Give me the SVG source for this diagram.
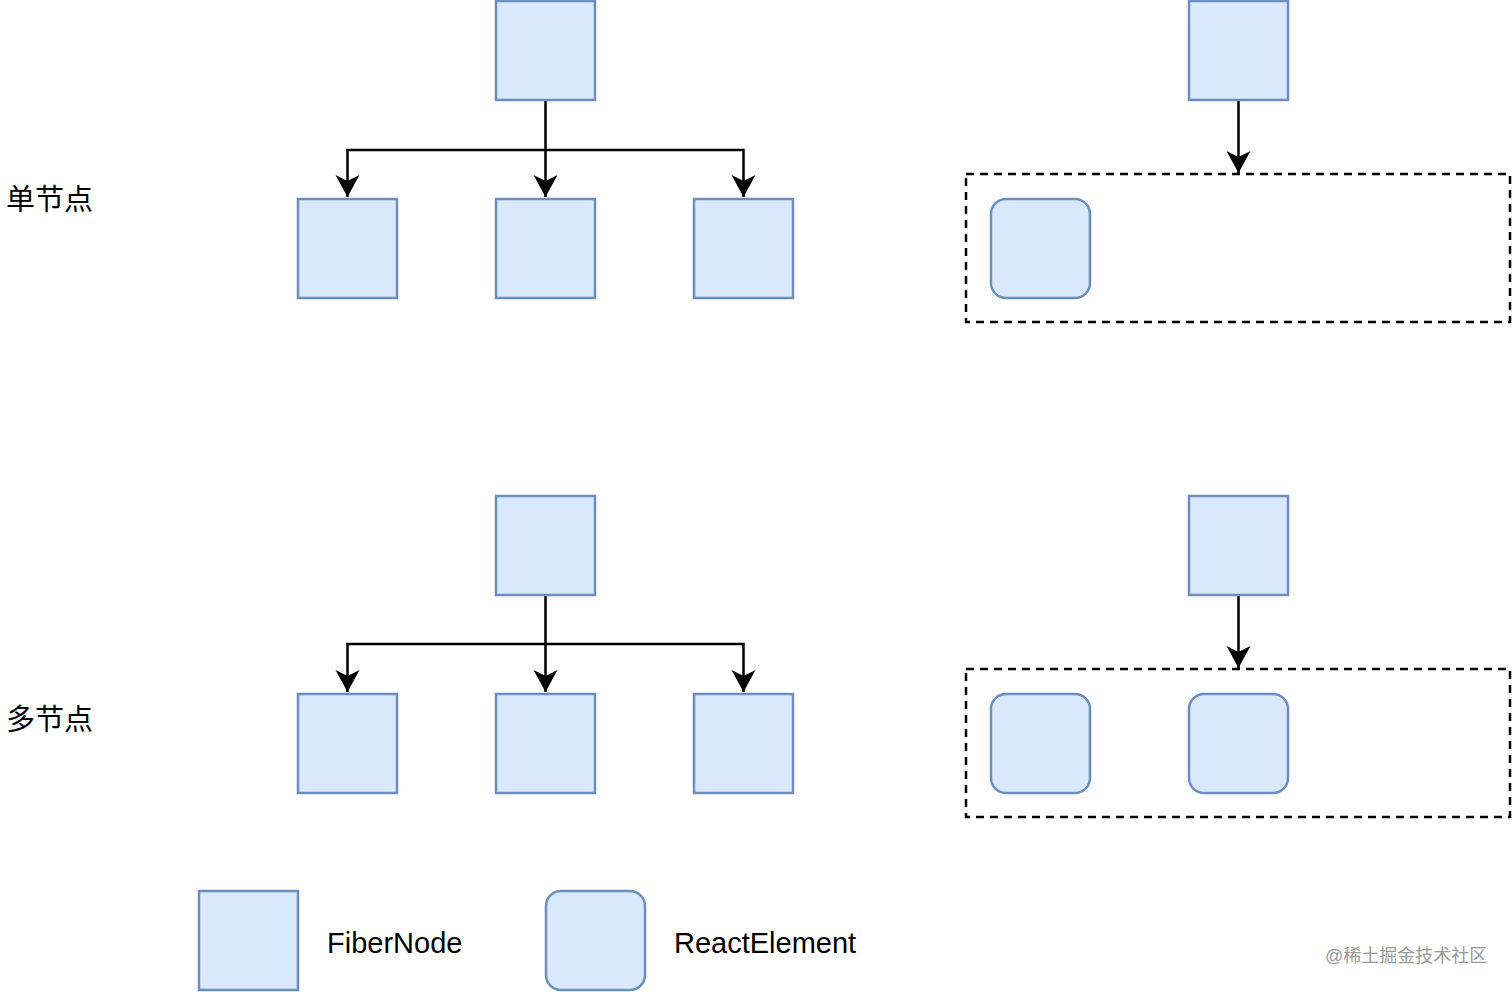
<svg xmlns="http://www.w3.org/2000/svg" width="1512" height="992" viewBox="0 0 1512 992">
<style>
.f{fill:#dae8fc;stroke:#6c8ebf;stroke-width:2.5}
.c{fill:none;stroke:#000;stroke-width:2.5}
.d{fill:none;stroke:#000;stroke-width:2.5;stroke-dasharray:8 6}
.t{font-family:"Liberation Sans","Noto Sans CJK SC",sans-serif;font-size:29px;fill:#000}
.w{font-family:"Liberation Sans","Noto Sans CJK SC",sans-serif;font-size:18px;fill:#999}
</style>
<defs>
<marker id="ar" viewBox="0 0 24 26" refX="22" refY="13" markerWidth="24" markerHeight="26" markerUnits="userSpaceOnUse" orient="auto">
<path d="M0,1 L22,13 L0,25 L6,13 Z" fill="#000"/>
</marker>
</defs>
<g id="connectors">
<path class="c" d="M545.5,101 V197" marker-end="url(#ar)"/>
<path class="c" d="M545.5,150 H347.5 V197" marker-end="url(#ar)"/>
<path class="c" d="M545.5,150 H743.5 V197" marker-end="url(#ar)"/>
<path class="c" d="M1238.5,101 V173" marker-end="url(#ar)"/>
<path class="c" d="M545.5,596 V692" marker-end="url(#ar)"/>
<path class="c" d="M545.5,644 H347.5 V692" marker-end="url(#ar)"/>
<path class="c" d="M545.5,644 H743.5 V692" marker-end="url(#ar)"/>
<path class="c" d="M1238.5,596 V668" marker-end="url(#ar)"/>
</g>
<g id="n1"><rect class="f" x="496" y="1" width="99" height="99"/></g>
<g id="n2"><rect class="f" x="298" y="199" width="99" height="99"/></g>
<g id="n3"><rect class="f" x="496" y="199" width="99" height="99"/></g>
<g id="n4"><rect class="f" x="694" y="199" width="99" height="99"/></g>
<g id="n5"><rect class="f" x="1189" y="1" width="99" height="99"/></g>
<g id="g1"><rect class="d" x="966" y="174" width="544" height="148"/></g>
<g id="r1"><rect class="f" x="991" y="199" width="99" height="99" rx="15"/></g>
<g id="n6"><rect class="f" x="496" y="496" width="99" height="99"/></g>
<g id="n7"><rect class="f" x="298" y="694" width="99" height="99"/></g>
<g id="n8"><rect class="f" x="496" y="694" width="99" height="99"/></g>
<g id="n9"><rect class="f" x="694" y="694" width="99" height="99"/></g>
<g id="n10"><rect class="f" x="1189" y="496" width="99" height="99"/></g>
<g id="g2"><rect class="d" x="966" y="669" width="544" height="148"/></g>
<g id="r2"><rect class="f" x="991" y="694" width="99" height="99" rx="15"/></g>
<g id="r3"><rect class="f" x="1189" y="694" width="99" height="99" rx="15"/></g>
<g id="label1"><text class="t" x="6" y="210">单节点</text></g>
<g id="label2"><text class="t" x="6" y="730">多节点</text></g>
<g id="legend1"><rect class="f" x="199" y="891" width="99" height="99"/><text class="t" x="327" y="953">FiberNode</text></g>
<g id="legend2"><rect class="f" x="546" y="891" width="99" height="99" rx="15"/><text class="t" x="674" y="953">ReactElement</text></g>
<text class="w" x="1325" y="962">@稀土掘金技术社区</text>
</svg>
